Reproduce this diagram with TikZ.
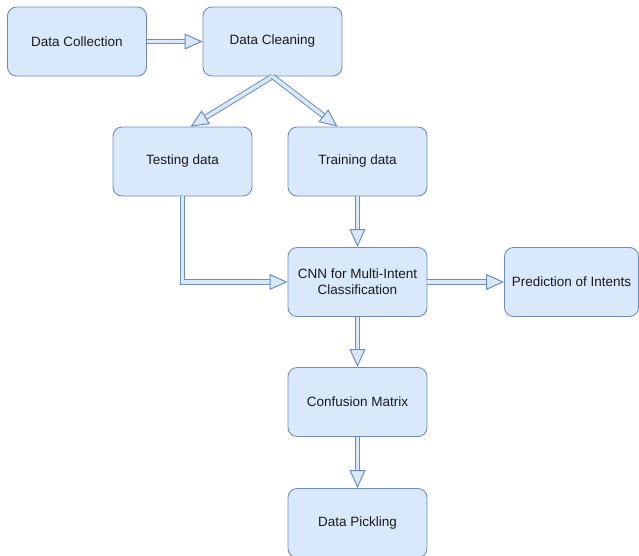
\documentclass[tikz,border=0pt]{standalone}
\usepackage{fontspec}
\setmainfont{Liberation Sans}
\usetikzlibrary{arrows.meta}
\definecolor{relleno}{HTML}{DAE8FC}
\definecolor{borde}{HTML}{6C8EBF}
\definecolor{texto}{HTML}{1A1A1A}
\begin{document}
\begin{tikzpicture} %Diagrama de flujo
  [
    x=1pt, y=-1pt,
    % Definimos el estilo de las cajas y flechas para no repetir codigo
    caja/.style={rectangle, rounded corners=9pt, draw=borde, fill=relleno, line width=0.9pt,
      minimum width=139pt, minimum height=69pt, inner sep=2pt, align=center,
      text=texto, font=\fontsize{13.5}{16}\selectfont},
    flecha/.style={draw=borde, double=relleno, double distance=3.6pt, line width=1pt,
      -{Triangle[length=18pt, width=16pt, fill=relleno, line width=1pt]}}
  ]
  \useasboundingbox (0,0) rectangle (639,555);
  \node[caja] (colec) at (77,41.5) {Data Collection};
  \node[caja] (limp) at (272.5,41.5) {Data Cleaning};
  \node[caja] (prueba) at (182.5,161.5) {Testing data};
  \node[caja] (entren) at (357.5,161.5) {Training data};
  \node[caja] (cnn) at (357.5,282) {CNN for Multi-Intent\\Classification};
  \node[caja, minimum width=134pt] (pred) at (571.5,282) {Prediction of Intents};
  \node[caja] (conf) at (357.5,402) {Confusion Matrix};
  \node[caja] (pick) at (357.5,523) {Data Pickling};
  \draw[flecha] (colec) -- (limp);
  \draw[flecha] (limp.south) -- ([xshift=8pt]prueba.north);
  \draw[flecha] (limp.south) -- ([xshift=-20pt]entren.north);
  \draw[flecha] (prueba.south) |- (cnn.west);
  \draw[flecha] (entren) -- (cnn);
  \draw[flecha] (cnn) -- (pred);
  \draw[flecha] (cnn) -- (conf);
  \draw[flecha] (conf) -- (pick);

\end{tikzpicture}
\end{document}
